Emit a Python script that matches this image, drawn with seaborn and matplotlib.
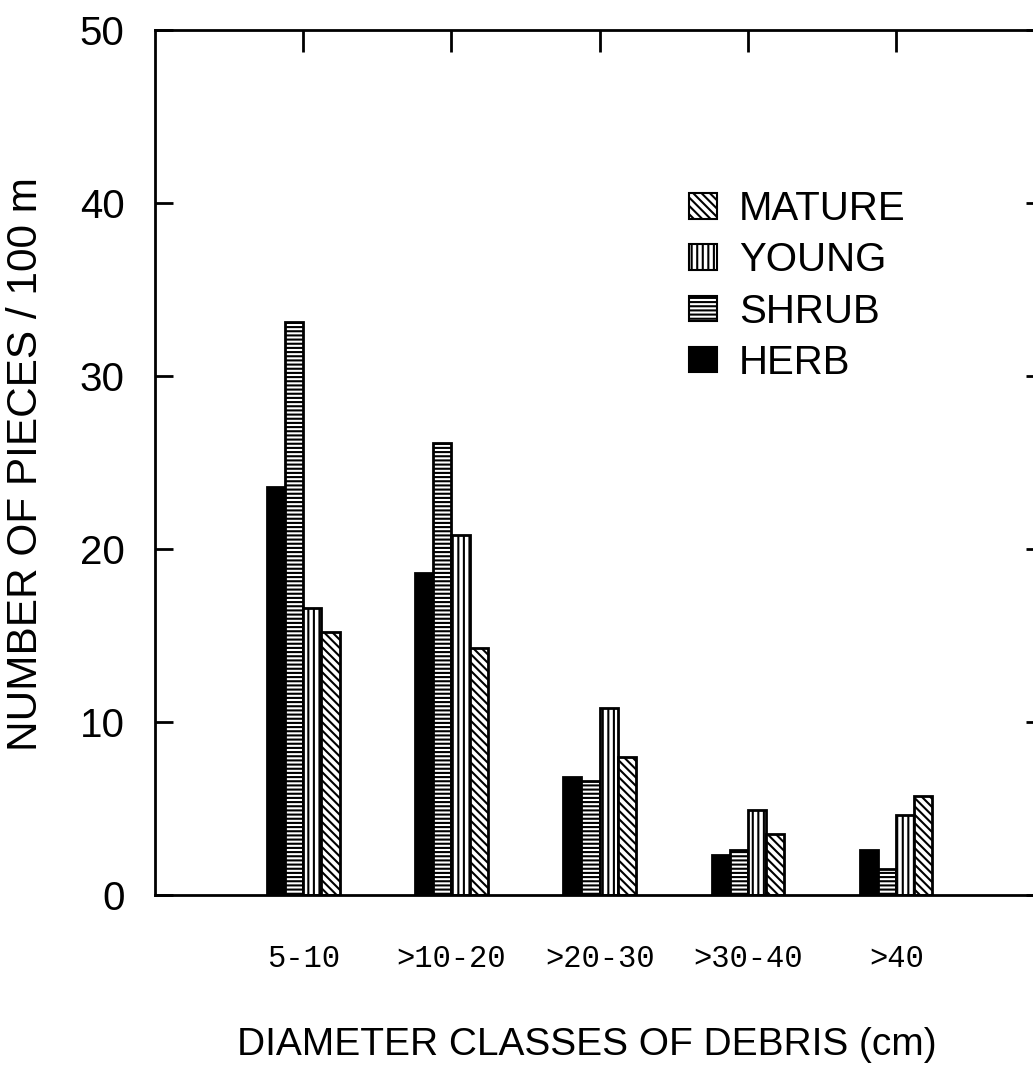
import matplotlib
matplotlib.use("Agg")
import matplotlib.pyplot as plt
import matplotlib.patches as mpatches
import seaborn as sns
import pandas as pd

# ---- data ----
categories = ["5-10", ">10-20", ">20-30", ">30-40", ">40"]
types = ["HERB", "SHRUB", "YOUNG", "MATURE"]
herb = [23.6, 18.6, 6.8, 2.3, 2.6]
shrub = [33.1, 26.1, 6.6, 2.6, 1.5]
young = [16.6, 20.8, 10.8, 4.9, 4.6]
mature = [15.2, 14.3, 8.0, 3.5, 5.7]
yticks = [0, 10, 20, 30, 40, 50]

series = {"HERB": herb, "SHRUB": shrub, "YOUNG": young, "MATURE": mature}
rows = []
for t in types:
    for c, v in zip(categories, series[t]):
        rows.append({"Diameter": c, "Pieces": v, "Type": t})
df = pd.DataFrame(rows)

sns.set_style("white")
plt.rcParams["font.family"] = ["Liberation Sans", "DejaVu Sans"]
plt.rcParams["hatch.linewidth"] = 1.5
plt.rcParams["text.color"] = "black"
plt.rcParams["axes.labelcolor"] = "black"
plt.rcParams["xtick.color"] = "black"
plt.rcParams["ytick.color"] = "black"

fills = {"HERB": "black", "SHRUB": "white", "YOUNG": "white", "MATURE": "white"}
hatches = {"HERB": "", "SHRUB": "----", "YOUNG": "|||", "MATURE": "\\\\\\\\"}

fig = plt.figure(figsize=(10.33, 10.87), dpi=100)
ax = fig.add_axes([0.150, 0.1766, 0.861, 0.7958])

sns.barplot(data=df, x="Diameter", y="Pieces", hue="Type", order=categories,
            hue_order=types, palette=fills, width=0.49, edgecolor="black",
            linewidth=2, saturation=1, errorbar=None, legend=False, ax=ax)

for cont, t in zip(ax.containers, types):
    for bar in cont:
        bar.set_hatch(hatches[t])
        bar.set_edgecolor("black")

ax.set_xlim(-1, 5)
ax.set_ylim(0, 50)
ax.set_yticks(yticks)
ax.set_yticklabels([str(v) for v in yticks], fontsize=29, color="black")

ax.set_xticks(range(len(categories)))
ax.set_xticklabels(categories, fontsize=22, fontfamily="Liberation Mono", color="black")

for s in ax.spines.values():
    s.set_visible(True)
    s.set_linewidth(2)
    s.set_color("black")

ax.tick_params(axis="x", which="major", top=True, bottom=True, direction="in",
               length=16, width=2, pad=35, color="black")
for tk in ax.xaxis.get_major_ticks():
    tk.tick1line.set_visible(False)
ax.tick_params(axis="y", which="major", left=True, right=True, direction="in",
               length=13, width=2, pad=22, color="black")

ax.set_xlabel("DIAMETER CLASSES OF DEBRIS (cm)", fontsize=28, color="black")
ax.xaxis.set_label_coords(0.485, -0.152)
ax.xaxis.label.set_va("top")
ax.set_ylabel("NUMBER OF PIECES / 100 m", fontsize=30.5, color="black")
ax.yaxis.set_label_coords(-0.122, 0.498)

handles = [mpatches.Patch(facecolor=fills[t], edgecolor="black", hatch=hatches[t],
                          linewidth=1.5, label=t) for t in reversed(types)]
leg = ax.legend(handles=handles, loc="upper left", bbox_to_anchor=(0.60, 0.815),
                frameon=False, fontsize=29, handlelength=0.7, handleheight=0.6,
                handletextpad=0.55, labelspacing=0.33, borderpad=0, borderaxespad=0)
for txt in leg.get_texts():
    txt.set_color("black")

ax.grid(False)
fig.savefig("out.png", dpi=100, facecolor="white")
